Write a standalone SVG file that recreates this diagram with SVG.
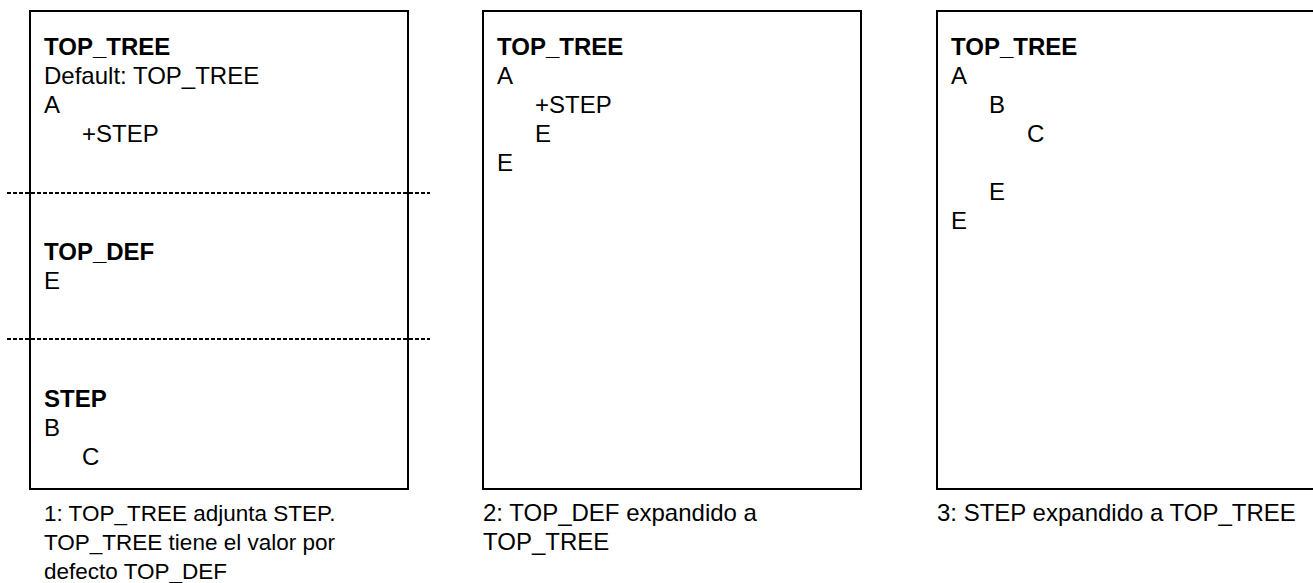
<svg xmlns="http://www.w3.org/2000/svg" width="1313" height="583" viewBox="0 0 1313 583">
<style>
.box{fill:#fff;stroke:#000;stroke-width:2}
.dash{stroke:#000;stroke-width:2;stroke-dasharray:4 2;fill:none}
text{font-family:"Liberation Sans",Arial,sans-serif;font-size:24px;fill:#000}
.b{font-weight:bold}
.cap1{font-size:22.5px}
</style>
<rect width="1313" height="583" fill="#fff"/>
<g id="panel1">
<rect class="box" x="30" y="11" width="378" height="478"/>
<text class="b" x="44" y="55">TOP_TREE</text>
<text x="44" y="84">Default: TOP_TREE</text>
<text x="44" y="113">A</text>
<text x="82" y="142">+STEP</text>
<text class="b" x="44" y="260">TOP_DEF</text>
<text x="44" y="289">E</text>
<text class="b" x="44" y="407">STEP</text>
<text x="44" y="436">B</text>
<text x="82" y="465">C</text>
<text class="cap1" x="44" y="521">1: TOP_TREE adjunta STEP.</text>
<text class="cap1" x="44" y="550">TOP_TREE tiene el valor por</text>
<text class="cap1" x="44" y="579">defecto TOP_DEF</text>
</g>
<g id="connectors">
<line class="dash" x1="7" y1="193" x2="430" y2="193"/>
<line class="dash" x1="7" y1="339" x2="430" y2="339"/>
</g>
<g id="panel2">
<rect class="box" x="483" y="11" width="378" height="478"/>
<text class="b" x="497" y="55">TOP_TREE</text>
<text x="497" y="84">A</text>
<text x="535" y="113">+STEP</text>
<text x="535" y="142">E</text>
<text x="497" y="171">E</text>
<text x="483" y="521">2: TOP_DEF expandido a</text>
<text x="483" y="550">TOP_TREE</text>
</g>
<g id="panel3">
<rect class="box" x="937" y="11" width="378" height="478"/>
<text class="b" x="951" y="55">TOP_TREE</text>
<text x="951" y="84">A</text>
<text x="989" y="113">B</text>
<text x="1027" y="142">C</text>
<text x="989" y="200">E</text>
<text x="951" y="229">E</text>
<text x="937" y="521">3: STEP expandido a TOP_TREE</text>
</g>
</svg>
